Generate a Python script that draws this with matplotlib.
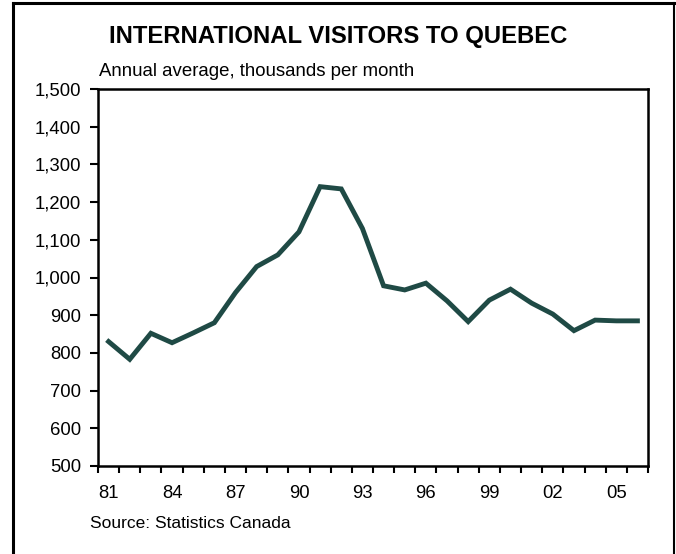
import matplotlib
matplotlib.use('Agg')
import matplotlib.pyplot as plt
from matplotlib.lines import Line2D

plt.rcParams['font.family'] = ['Liberation Sans', 'DejaVu Sans']

# Annual average international visitors, thousands per month
years = list(range(1981, 2007))
visitors = [830, 783, 852, 827, 853, 880, 960, 1029, 1060, 1121, 1241, 1235, 1130,
            978, 967, 985, 938, 883, 940, 969, 932, 903, 859, 887, 885, 885]
tick_years = [1981, 1984, 1987, 1990, 1993, 1996, 1999, 2002, 2005]
tick_labels = ['81', '84', '87', '90', '93', '96', '99', '02', '05']
y_ticks = list(range(500, 1501, 100))

fig = plt.figure(figsize=(6.76, 5.54), dpi=100)
ax = fig.add_axes([98/676, 88/554, 550/676, 377/554])

ax.plot(years, visitors, color='#1f4a45', lw=3.5, solid_joinstyle='miter')

ax.set_xlim(1980.5, 2006.5)
ax.set_ylim(500, 1500)

# major labels at year centres, small ticks at year boundaries
ax.set_xticks(tick_years)
ax.set_xticklabels(tick_labels, fontsize=13.3)
ax.tick_params(axis='x', which='major', length=0, pad=14)
ax.set_xticks([y - 0.5 for y in range(1981, 2008)], minor=True)
ax.tick_params(axis='x', which='minor', length=5, width=1.5, direction='out')

ax.set_yticks(y_ticks)
ax.set_yticklabels([f'{v:,}' for v in y_ticks], fontsize=13.3)
ax.tick_params(axis='y', length=6, width=1.5, direction='out', pad=6)

for s in ax.spines.values():
    s.set_linewidth(1.8)

fig.text(0.5, 1 - 36/554, 'INTERNATIONAL VISITORS TO QUEBEC', ha='center', va='center',
         fontsize=17.2, fontweight='bold')
fig.text(99/676, 1 - 72/554, 'Annual average, thousands per month', ha='left', va='center',
         fontsize=13.4)
fig.text(90/676, 1 - 523/554, 'Source: Statistics Canada', ha='left', va='center',
         fontsize=12.5)

# outer frame
fig.add_artist(Line2D([13/676, 13/676], [0, 1 - 3/554], transform=fig.transFigure, color='black', lw=2.2))
fig.add_artist(Line2D([13/676, 674/676], [1 - 3/554, 1 - 3/554], transform=fig.transFigure, color='black', lw=2.2))
fig.add_artist(Line2D([674/676, 674/676], [0, 1 - 3/554], transform=fig.transFigure, color='black', lw=1.5))

fig.savefig('out.png', dpi=100)
